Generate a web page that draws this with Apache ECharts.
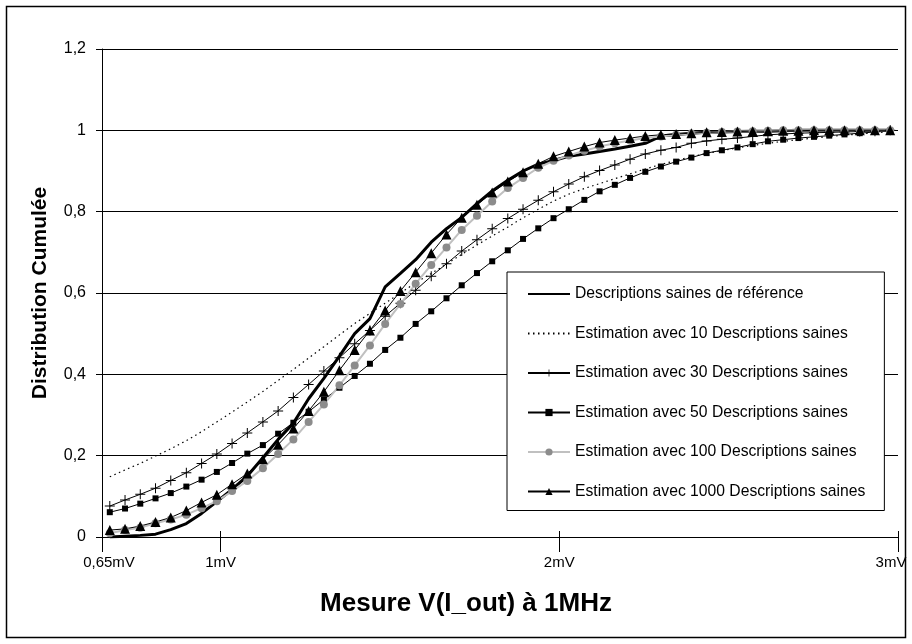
<!DOCTYPE html>
<html>
<head>
<meta charset="utf-8">
<script src="https://cdn.jsdelivr.net/npm/echarts@6/dist/echarts.min.js"></script>
<style>
  html, body { margin: 0; padding: 0; background: #fff; }
  #chart { width: 912px; height: 644px; }
</style>
</head>
<body>
<div id="chart"></div>
<script>
// mesure V(I_out) en mV, centre de chaque classe
var xs = [0.673, 0.718, 0.763, 0.808, 0.853, 0.899, 0.944, 0.989, 1.034, 1.079,
  1.125, 1.170, 1.215, 1.260, 1.305, 1.351, 1.396, 1.441, 1.486, 1.531,
  1.576, 1.622, 1.667, 1.712, 1.757, 1.802, 1.848, 1.893, 1.938, 1.983,
  2.028, 2.074, 2.119, 2.164, 2.209, 2.254, 2.300, 2.345, 2.390, 2.435,
  2.480, 2.526, 2.571, 2.616, 2.661, 2.706, 2.752, 2.797, 2.842, 2.887, 2.932, 2.977];

var ref = [0, 0.002, 0.004, 0.007, 0.018, 0.033, 0.058, 0.087, 0.117, 0.15,
  0.195, 0.24, 0.28, 0.34, 0.39, 0.445, 0.5, 0.537, 0.615, 0.648,
  0.682, 0.725, 0.758, 0.786, 0.82, 0.851, 0.877, 0.9, 0.917, 0.926,
  0.936, 0.942, 0.948, 0.954, 0.961, 0.968, 0.986, 0.99, 0.993, 0.995,
  0.996, 0.997, 0.998, 0.998, 0.999, 1, 1, 1, 1, 1, 1, 1];

var est10 = [0.148, 0.165, 0.181, 0.199, 0.217, 0.237, 0.259, 0.283, 0.307, 0.332,
  0.358, 0.385, 0.412, 0.44, 0.468, 0.497, 0.525, 0.55, 0.575, 0.6,
  0.625, 0.648, 0.671, 0.695, 0.718, 0.74, 0.762, 0.785, 0.806, 0.826,
  0.843, 0.857, 0.869, 0.881, 0.893, 0.905, 0.916, 0.926, 0.935, 0.943,
  0.95, 0.957, 0.963, 0.968, 0.973, 0.977, 0.981, 0.985, 0.988, 0.991, 0.994, 0.997];

var est30 = [0.076, 0.091, 0.105, 0.12, 0.139, 0.158, 0.181, 0.204, 0.23, 0.256,
  0.283, 0.31, 0.343, 0.375, 0.408, 0.441, 0.475, 0.508, 0.543, 0.575,
  0.607, 0.641, 0.672, 0.703, 0.731, 0.758, 0.783, 0.806, 0.828, 0.849,
  0.868, 0.886, 0.901, 0.915, 0.929, 0.942, 0.951, 0.958, 0.968, 0.974,
  0.978, 0.981, 0.985, 0.989, 0.991, 0.993, 0.994, 0.995, 0.996, 0.997, 0.998, 1];

var est50 = [0.061, 0.07, 0.082, 0.095, 0.108, 0.124, 0.141, 0.16, 0.182, 0.205,
  0.226, 0.254, 0.281, 0.308, 0.338, 0.367, 0.396, 0.426, 0.46, 0.49,
  0.524, 0.555, 0.587, 0.619, 0.649, 0.678, 0.705, 0.733, 0.759, 0.784,
  0.806, 0.829, 0.85, 0.866, 0.883, 0.898, 0.911, 0.923, 0.933, 0.944,
  0.951, 0.958, 0.966, 0.973, 0.977, 0.981, 0.984, 0.987, 0.99, 0.993, 0.996, 0.998];

var est100 = [0.009, 0.017, 0.023, 0.034, 0.043, 0.055, 0.071, 0.088, 0.113, 0.138,
  0.169, 0.204, 0.24, 0.283, 0.326, 0.373, 0.422, 0.471, 0.524, 0.573,
  0.623, 0.669, 0.712, 0.755, 0.79, 0.825, 0.858, 0.883, 0.908, 0.925,
  0.938, 0.95, 0.96, 0.968, 0.975, 0.981, 0.985, 0.989, 0.992, 0.994,
  0.996, 0.997, 0.998, 0.999, 1, 1, 1, 1, 1, 1, 1, 1];

var est1000 = [0.017, 0.02, 0.027, 0.037, 0.048, 0.065, 0.085, 0.104, 0.13, 0.156,
  0.191, 0.227, 0.267, 0.31, 0.357, 0.41, 0.46, 0.508, 0.557, 0.605,
  0.651, 0.698, 0.744, 0.785, 0.817, 0.847, 0.874, 0.897, 0.918, 0.936,
  0.948, 0.96, 0.97, 0.976, 0.981, 0.986, 0.989, 0.991, 0.993, 0.995,
  0.996, 0.997, 0.998, 0.998, 0.999, 0.999, 1, 1, 1, 1, 1, 1];

var xTicks = [0.65, 1, 2, 3];

var names = ['Descriptions saines de référence',
  'Estimation avec 10 Descriptions saines',
  'Estimation avec 30 Descriptions saines',
  'Estimation avec 50 Descriptions saines',
  'Estimation avec 100 Descriptions saines',
  'Estimation avec 1000 Descriptions saines'];

var FONT = '"Liberation Sans", Arial, sans-serif';
var PLUS = 'path://M4.5,0h1v4.5h4.5v1h-4.5v4.5h-1v-4.5h-4.5v-1h4.5z';

function pairs(ys) {
  return ys.map(function (y, i) { return [xs[i], y]; });
}

var myChart = echarts.init(document.getElementById('chart'));

myChart.setOption({
  animation: false,
  backgroundColor: '#fff',
  grid: { left: 102, right: 14, top: 49, bottom: 107 },
  graphic: [{
    type: 'rect',
    silent: true,
    shape: { x: 6.5, y: 6.5, width: 899, height: 631 },
    style: { fill: null, stroke: '#000', lineWidth: 1.5 }
  }],
  legend: {
    orient: 'vertical',
    left: 507,
    top: 272,
    padding: [14, 19, 11, 20],
    itemWidth: 42,
    itemHeight: 9,
    itemGap: 23.5,
    backgroundColor: '#fff',
    borderColor: '#000',
    borderWidth: 1,
    textStyle: { fontFamily: FONT, fontSize: 15.7, color: '#000', lineHeight: 16 },
    data: [
      // pas de marqueur pour ces deux courbes
      { name: names[0], itemStyle: { color: 'rgba(0,0,0,0)', borderWidth: 0 } },
      { name: names[1], itemStyle: { color: 'rgba(0,0,0,0)', borderWidth: 0 } },
      { name: names[2] },
      { name: names[3] },
      { name: names[4] },
      { name: names[5] }
    ]
  },
  xAxis: [{
    type: 'value',
    min: 0.65,
    max: 3,
    name: 'Mesure V(I_out) à 1MHz',
    nameLocation: 'middle',
    nameGap: 54,
    nameTextStyle: { fontFamily: FONT, fontSize: 26, fontWeight: 'bold', color: '#000', padding: [0, 68, 0, 0] },
    axisLine: { lineStyle: { color: '#000', width: 1 } },
    axisTick: { show: true, length: 15, customValues: xTicks, lineStyle: { color: '#000' } },
    axisLabel: {
      customValues: xTicks,
      margin: 18,
      color: '#000',
      fontFamily: FONT,
      fontSize: 15,
      formatter: function (v) {
        var s = String(v).replace('.', ',') + 'mV';
        if (v === 0.65) return '{l|' + s + '}';
        if (v === 3) return '{r|' + s + '}';
        return s;
      },
      rich: {
        l: { padding: [0, 0, 0, 14], fontFamily: FONT, fontSize: 15, color: '#000' },
        r: { padding: [0, 14, 0, 0], fontFamily: FONT, fontSize: 15, color: '#000' }
      }
    },
    splitLine: { show: false }
  }, {
    // petites graduations au-dessus de l'axe
    type: 'value',
    min: 0.65,
    max: 3,
    position: 'bottom',
    offset: 0,
    axisLine: { show: false },
    axisTick: { show: true, inside: true, length: 6, customValues: xTicks, lineStyle: { color: '#000' } },
    axisLabel: { show: false },
    splitLine: { show: false }
  }],
  yAxis: {
    type: 'value',
    min: 0,
    max: 1.2,
    interval: 0.2,
    name: 'Distribution Cumulée',
    nameLocation: 'middle',
    nameGap: 51,
    nameTextStyle: { fontFamily: FONT, fontSize: 21, fontWeight: 'bold', color: '#000' },
    axisLine: { show: true, lineStyle: { color: '#000', width: 1 } },
    axisTick: { show: true, length: 6, lineStyle: { color: '#000' } },
    axisLabel: {
      margin: 16,
      color: '#000',
      fontFamily: FONT,
      fontSize: 16,
      formatter: function (v) { return String(+v.toFixed(1)).replace('.', ','); }
    },
    splitLine: { show: true, lineStyle: { color: '#000', width: 1 } }
  },
  series: [{
    name: names[0],
    type: 'line',
    data: pairs(ref),
    symbol: 'none',
    itemStyle: { color: '#000' },
    lineStyle: { color: '#000', width: 3 }
  }, {
    name: names[1],
    type: 'line',
    data: pairs(est10),
    symbol: 'none',
    itemStyle: { color: '#000' },
    lineStyle: { color: '#000', width: 1.2, type: [1.5, 3.5] }
  }, {
    name: names[2],
    type: 'line',
    data: pairs(est30),
    symbol: PLUS,
    symbolSize: 10,
    itemStyle: { color: '#000' },
    lineStyle: { color: '#000', width: 1 }
  }, {
    name: names[3],
    type: 'line',
    data: pairs(est50),
    symbol: 'rect',
    symbolSize: 6,
    itemStyle: { color: '#000' },
    lineStyle: { color: '#000', width: 1 }
  }, {
    name: names[4],
    type: 'line',
    data: pairs(est100),
    symbol: 'circle',
    symbolSize: 8,
    itemStyle: { color: '#8c8c8c' },
    lineStyle: { color: '#c0c0c0', width: 2 }
  }, {
    name: names[5],
    type: 'line',
    data: pairs(est1000),
    symbol: 'triangle',
    symbolSize: 10,
    itemStyle: { color: '#000' },
    lineStyle: { color: '#000', width: 1 }
  }]
});
</script>
</body>
</html>
